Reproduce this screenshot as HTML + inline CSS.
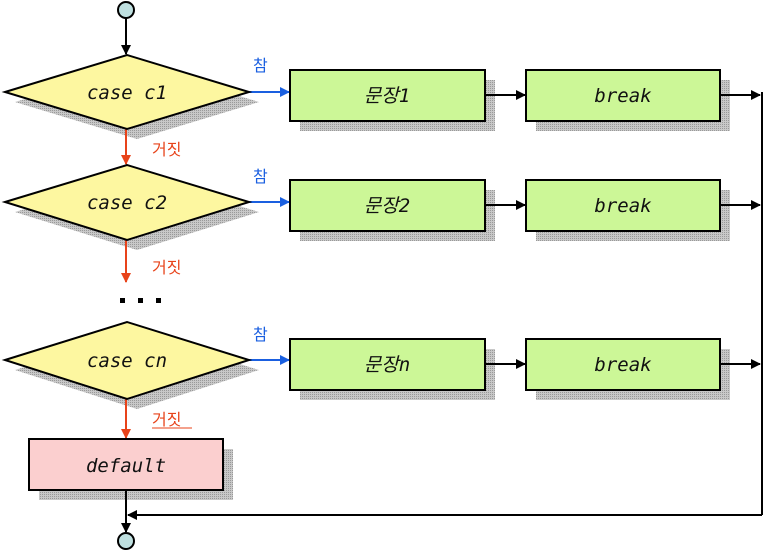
<!DOCTYPE html>
<html><head><meta charset="utf-8"><style>body{margin:0;background:#fff}</style></head><body>
<svg width="764" height="553" viewBox="0 0 764 553" xmlns="http://www.w3.org/2000/svg" font-family="'DejaVu Sans Mono','Liberation Mono','Noto Sans CJK KR',monospace">
<defs>
<pattern id="sh" width="2" height="2" patternUnits="userSpaceOnUse"><rect width="2" height="2" fill="#c8c8c8"/><rect width="1" height="1" fill="#999"/></pattern>
<marker id="ak" markerWidth="10" markerHeight="10" refX="9" refY="5" orient="auto" markerUnits="userSpaceOnUse"><path d="M0,0 L10,5 L0,10z" fill="#000"/></marker>
<marker id="ab" markerWidth="10" markerHeight="10" refX="9" refY="5" orient="auto" markerUnits="userSpaceOnUse"><path d="M0,0 L10,5 L0,10z" fill="#1a5fe0"/></marker>
<marker id="ar" markerWidth="10" markerHeight="10" refX="9" refY="5" orient="auto" markerUnits="userSpaceOnUse"><path d="M0,0 L10,5 L0,10z" fill="#e8431a"/></marker>
</defs>
<!-- shadows -->
<g fill="url(#sh)">
<polygon points="15,102 137,65 259,102 137,139"/>
<polygon points="15,212 137,175 259,212 137,250"/>
<polygon points="15,370 137,332 259,370 137,409"/>
<rect x="300" y="80" width="195" height="51"/><rect x="536" y="80" width="194" height="51"/>
<rect x="300" y="190" width="195" height="51"/><rect x="536" y="190" width="194" height="51"/>
<rect x="300" y="349" width="195" height="51"/><rect x="536" y="349" width="194" height="51"/>
<rect x="39" y="449" width="194" height="51"/>
</g>
<!-- connectors -->
<g stroke="#000" stroke-width="2" fill="none">
<line x1="126" y1="18" x2="126" y2="54" marker-end="url(#ak)"/>
<line x1="485" y1="95" x2="525" y2="95" marker-end="url(#ak)"/>
<line x1="485" y1="205" x2="525" y2="205" marker-end="url(#ak)"/>
<line x1="485" y1="364" x2="525" y2="364" marker-end="url(#ak)"/>
<line x1="720" y1="95" x2="760" y2="95" marker-end="url(#ak)"/>
<line x1="720" y1="205" x2="760" y2="205" marker-end="url(#ak)"/>
<line x1="720" y1="364" x2="760" y2="364" marker-end="url(#ak)"/>
<line x1="762" y1="92" x2="762" y2="515"/>
<line x1="762" y1="515" x2="128" y2="515" marker-end="url(#ak)"/>
<line x1="126" y1="490" x2="126" y2="532" marker-end="url(#ak)"/>
</g>
<g stroke="#1a5fe0" stroke-width="2">
<line x1="249" y1="92" x2="289" y2="92" marker-end="url(#ab)"/>
<line x1="249" y1="202" x2="289" y2="202" marker-end="url(#ab)"/>
<line x1="249" y1="360" x2="289" y2="360" marker-end="url(#ab)"/>
</g>
<g stroke="#e8431a" stroke-width="2">
<line x1="126" y1="129" x2="126" y2="164" marker-end="url(#ar)"/>
<line x1="126" y1="240" x2="126" y2="282" marker-end="url(#ar)"/>
<line x1="126" y1="399" x2="126" y2="438" marker-end="url(#ar)"/>
</g>
<!-- shapes -->
<g stroke="#000" stroke-width="2">
<circle cx="126" cy="10" r="8" fill="#bfe0e0"/>
<circle cx="126" cy="541" r="8" fill="#bfe0e0"/>
<polygon points="5,92 127,55 249,92 127,129" fill="#fdf7a0"/>
<polygon points="5,202 127,165 249,202 127,240" fill="#fdf7a0"/>
<polygon points="5,360 127,322 249,360 127,399" fill="#fdf7a0"/>
<g fill="#ccf797">
<rect x="290" y="70" width="195" height="51"/><rect x="526" y="70" width="194" height="51"/>
<rect x="290" y="180" width="195" height="51"/><rect x="526" y="180" width="194" height="51"/>
<rect x="290" y="339" width="195" height="51"/><rect x="526" y="339" width="194" height="51"/>
</g>
<rect x="29" y="439" width="194" height="51" fill="#fbcfcf"/>
</g>
<!-- text -->
<g font-size="19" font-style="italic" text-anchor="middle" fill="#111">
<text x="127" y="99">case c1</text>
<text x="127" y="209">case c2</text>
<text x="127" y="367">case cn</text>
<text x="387" y="102">문장1</text>
<text x="387" y="212">문장2</text>
<text x="387" y="371">문장n</text>
<text x="623" y="102">break</text>
<text x="623" y="212">break</text>
<text x="623" y="371">break</text>
<text x="126" y="472">default</text>
</g>
<g font-size="16" fill="#1a5fe0" font-family="'Noto Sans CJK KR',sans-serif">
<text x="253" y="71">참</text><text x="253" y="182">참</text><text x="253" y="340">참</text>
</g>
<g font-size="16" fill="#e8431a" font-family="'Noto Sans CJK KR',sans-serif">
<text x="152" y="155">거짓</text><text x="152" y="273">거짓</text><text x="152" y="425">거짓</text>
</g>
<line x1="152" y1428="428" y1="428" x2="192" y2="428" stroke="#e8431a" stroke-width="1"/>
<g fill="#000"><rect x="120" y="298" width="5" height="5"/><rect x="138" y="298" width="5" height="5"/><rect x="156" y="298" width="5" height="5"/></g>
</svg>
</body></html>
